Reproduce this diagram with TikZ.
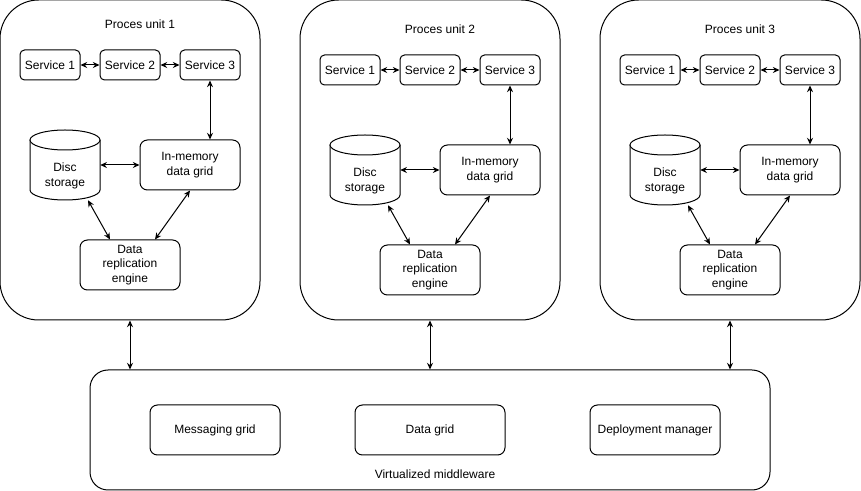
\documentclass[tikz,border=0pt]{standalone}
\usepackage{fontspec}
\setmainfont{Liberation Sans}
\usetikzlibrary{arrows.meta,calc}
\begin{document}
\begin{tikzpicture}[x=0.75pt,y=-0.75pt,
  font=\fontsize{9}{10.8}\selectfont,
  lw/.style={line width=0.75pt},
  box/.style={draw,lw,align=center,inner sep=0pt,rounded corners=3.4pt,minimum width=45pt,minimum height=22.5pt},
  bigbox/.style={draw,lw,align=center,inner sep=0pt,rounded corners=5.6pt,minimum width=75pt,minimum height=37.5pt},
  mwbox/.style={draw,lw,align=center,inner sep=0pt,rounded corners=5.6pt,minimum height=37.5pt},
  unitbox/.style={draw,lw,inner sep=0pt,rounded corners=29pt,minimum width=195pt,minimum height=240pt},
  ghost/.style={inner sep=0pt,minimum width=52.5pt,minimum height=52.5pt,align=center},
  label/.style={inner sep=0pt},
  arr/.style={line width=0.75pt,{Stealth[length=5pt,width=4.5pt]}-{Stealth[length=5pt,width=4.5pt]}}]
\useasboundingbox (0,0) rectangle (861,491);
\foreach \u/\dx/\dy in {1/0/0,2/300/5,3/600/5}{
  \node[unitbox] (unit\u) at (130+\dx,160) {};
  \node[label] (title\u) at (140+\dx,24+\dy) {Proces unit \u};
  \node[box] (sa\u) at (50+\dx,65+\dy) {Service 1};
  \node[box] (sb\u) at (130+\dx,65+\dy) {Service 2};
  \node[box] (sc\u) at (210+\dx,65+\dy) {Service 3};
  \node[bigbox] (im\u) at (190+\dx,165+\dy) {In-memory\\data grid};
  \node[bigbox] (dr\u) at (130+\dx,265+\dy) {Data\\replication\\engine};
  \node[ghost] (disc\u) at (65+\dx,165+\dy) {};
  \draw[lw,fill=white] (30+\dx,140+\dy) -- (30+\dx,190+\dy)
     arc[start angle=180,end angle=360,x radius=26.25pt,y radius=7.5pt]
     -- (100+\dx,140+\dy);
  \draw[lw,fill=white] (65+\dx,140+\dy) ellipse[x radius=26.25pt,y radius=7.5pt];
  \node[label,align=center] at (65+\dx,176+\dy) {Disc\\storage};
  \draw[arr] (sa\u) -- (sb\u);
  \draw[arr] (sb\u) -- (sc\u);
  \draw[arr] (sc\u.south) -- (sc\u.south |- im\u.north);
  \draw[arr] (disc\u) -- (im\u);
  \draw[arr] ($(disc\u.south)+(23,0)$) -- ($(dr\u.north)+(-20,0)$);
  \draw[arr] (im\u.south) -- ($(dr\u.north)+(25,0)$);
}
\node[draw,lw,inner sep=0pt,rounded corners=13.5pt,minimum width=510pt,minimum height=90pt] (mw) at (430,430) {};
\node[mwbox,minimum width=97.5pt] (msg) at (215,430) {Messaging grid};
\node[mwbox,minimum width=112.5pt] (dg) at (430,430) {Data grid};
\node[mwbox,minimum width=97.5pt] (dm) at (655,430) {Deployment manager};
\node[label] (mwl) at (435,474) {Virtualized middleware};
\foreach \u in {1,2,3}{
  \draw[arr] (unit\u.south) -- (unit\u.south |- mw.north);
}
\end{tikzpicture}
\end{document}
